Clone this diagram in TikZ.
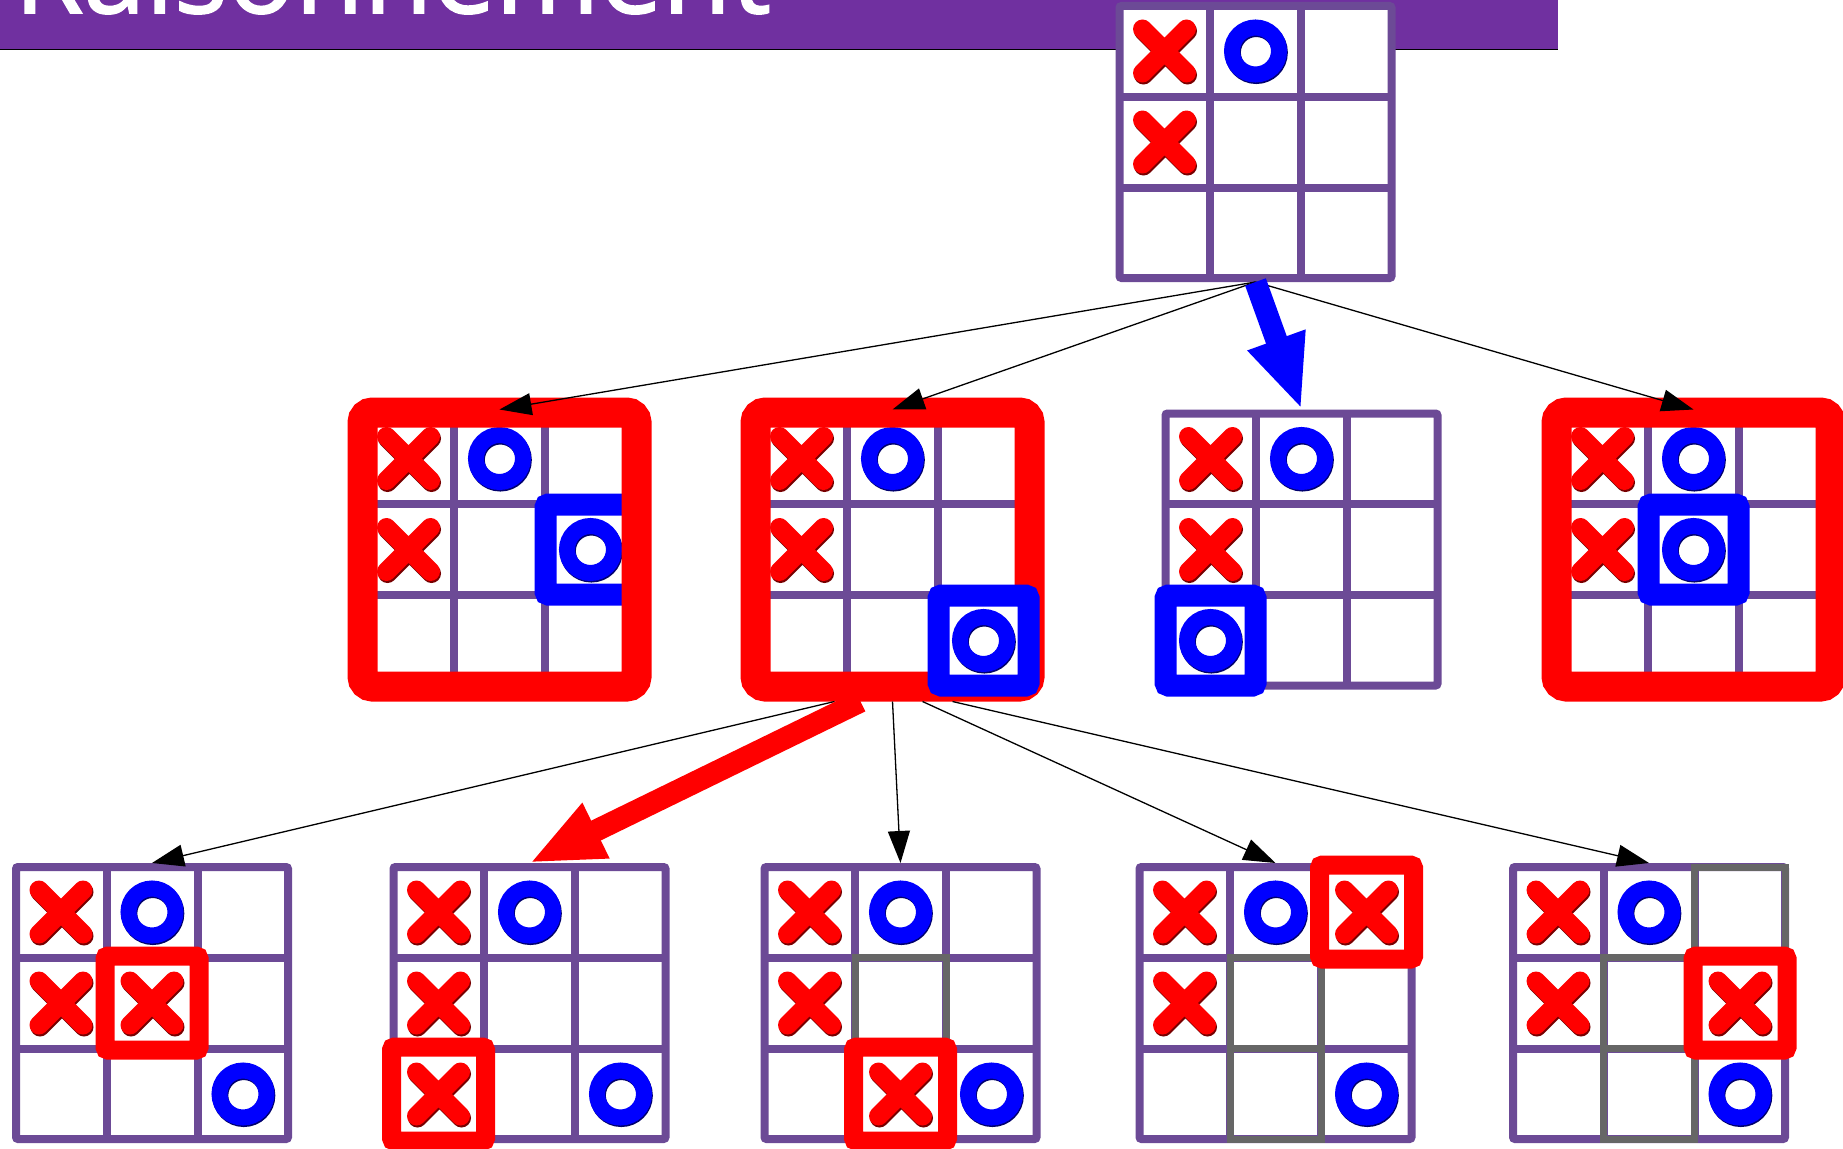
\documentclass[tikz,border=0pt]{standalone}
\usepackage{fontspec}
\setmainfont{Open Sans}
\newfontfamily\titlefont{Open Sans}[FakeBold=1.5]
\usepackage{tikz}
\usetikzlibrary{arrows.meta,calc}

\definecolor{titlepurple}{RGB}{112,48,160}
\definecolor{gridpurple}{RGB}{108,74,150}
\definecolor{cellgray}{RGB}{102,102,102}
\definecolor{xshade}{RGB}{120,0,0}
\definecolor{oshade}{RGB}{0,0,110}

\newcommand\putmark[4]{\pic at ($(#1)+({(#2-2)*91},{(#3-2)*91})$) {#4};}

\begin{document}
\begin{tikzpicture}[x=1pt,y=-1pt,
  board/.style={draw=gridpurple, line width=8pt, fill=white, minimum size=272pt, inner sep=0pt, rounded corners=2pt,
    path picture={
      \draw[gridpurple, line width=8pt]
        ([xshift=-45.5pt]path picture bounding box.north) -- ([xshift=-45.5pt]path picture bounding box.south)
        ([xshift=45.5pt]path picture bounding box.north) -- ([xshift=45.5pt]path picture bounding box.south)
        ([yshift=-45.5pt]path picture bounding box.west) -- ([yshift=-45.5pt]path picture bounding box.east)
        ([yshift=45.5pt]path picture bounding box.west) -- ([yshift=45.5pt]path picture bounding box.east);
    }},
  winframe/.style={draw=red, line width=30pt, minimum size=274pt, inner sep=0pt, rounded corners=10pt},
  bluepick/.style={draw=blue, line width=22pt, fill=white, minimum size=90pt, inner sep=0pt, rounded corners=3pt},
  redpick/.style={draw=red, line width=19pt, fill=white, minimum size=94pt, inner sep=0pt, rounded corners=3pt},
  graycell/.style={draw=cellgray, line width=7pt},
  move/.style={-{Triangle[length=32pt,width=22pt]}, line width=1.3pt, black},
  bestmove/.style={-{Triangle[length=74pt,width=56pt]}, line width=22pt},
  xmark/.pic={
    \draw[xshade, line width=19pt, line cap=round, shift={(1,2)}] (-22,-22) -- (22,22) (-22,22) -- (22,-22);
    \draw[red, line width=19pt, line cap=round] (-22,-22) -- (22,22) (-22,22) -- (22,-22);
  },
  omark/.pic={
    \draw[oshade, line width=16pt, shift={(0.8,1.5)}] (0,0) circle[radius=23.5pt];
    \draw[blue, line width=16pt] (0,0) circle[radius=23.5pt];
  }]
  \useasboundingbox (0,0) rectangle (1843,1148);
  \clip (0,0) rectangle (1843,1148);

  \fill[titlepurple] (0,0) rectangle (1558,49);
  \draw[line width=1.5pt] (0,49.5) -- (1558,49.5);
  \node[anchor=base west, inner sep=0pt, text=white, font=\titlefont\fontsize{112}{112}\selectfont] (title) at (14,13) {Raisonnement};

  \node[board] (root) at (1255.5,142) {};
  \putmark{root}{1}{1}{xmark}
  \putmark{root}{2}{1}{omark}
  \putmark{root}{1}{2}{xmark}

  \node[board] (c1) at (499.5,549.5) {};
  \putmark{c1}{1}{1}{xmark}
  \putmark{c1}{2}{1}{omark}
  \putmark{c1}{1}{2}{xmark}
  \node[bluepick] (c1p) at ($(c1)+(91,0)$) {};
  \putmark{c1}{3}{2}{omark}
  \node[winframe] (c1f) at (c1) {};

  \node[board] (c2) at (892.5,549.5) {};
  \putmark{c2}{1}{1}{xmark}
  \putmark{c2}{2}{1}{omark}
  \putmark{c2}{1}{2}{xmark}
  \node[winframe] (c2f) at (c2) {};
  \node[bluepick] (c2p) at ($(c2)+(91,91)$) {};
  \putmark{c2}{3}{3}{omark}

  \node[board] (c3) at (1301.5,549.5) {};
  \putmark{c3}{1}{1}{xmark}
  \putmark{c3}{2}{1}{omark}
  \putmark{c3}{1}{2}{xmark}
  \node[bluepick] (c3p) at ($(c3)+(-91,91)$) {};
  \putmark{c3}{1}{3}{omark}

  \node[board] (c4) at (1693.5,549.5) {};
  \putmark{c4}{1}{1}{xmark}
  \putmark{c4}{2}{1}{omark}
  \putmark{c4}{1}{2}{xmark}
  \node[winframe] (c4f) at (c4) {};
  \node[bluepick] (c4p) at (c4) {};
  \putmark{c4}{2}{2}{omark}

  \node[board] (d1) at (152,1003) {};
  \putmark{d1}{1}{1}{xmark}
  \putmark{d1}{2}{1}{omark}
  \putmark{d1}{1}{2}{xmark}
  \putmark{d1}{3}{3}{omark}
  \node[redpick] (d1p) at (d1) {};
  \putmark{d1}{2}{2}{xmark}

  \node[board] (d2) at (529.5,1003) {};
  \putmark{d2}{1}{1}{xmark}
  \putmark{d2}{2}{1}{omark}
  \putmark{d2}{1}{2}{xmark}
  \putmark{d2}{3}{3}{omark}
  \node[redpick] (d2p) at ($(d2)+(-91,91)$) {};
  \putmark{d2}{1}{3}{xmark}

  \node[board] (d3) at (900.5,1003) {};
  \draw[graycell] ($(d3)+(-45.5,-45.5)$) rectangle ($(d3)+(45.5,45.5)$);
  \putmark{d3}{1}{1}{xmark}
  \putmark{d3}{2}{1}{omark}
  \putmark{d3}{1}{2}{xmark}
  \putmark{d3}{3}{3}{omark}
  \node[redpick] (d3p) at ($(d3)+(0,91)$) {};
  \putmark{d3}{2}{3}{xmark}

  \node[board] (d4) at (1275.5,1003) {};
  \draw[graycell] ($(d4)+(-45.5,-45.5)$) rectangle ($(d4)+(45.5,136)$);
  \draw[graycell] ($(d4)+(-45.5,45.5)$) -- ($(d4)+(45.5,45.5)$);
  \putmark{d4}{1}{1}{xmark}
  \putmark{d4}{2}{1}{omark}
  \putmark{d4}{1}{2}{xmark}
  \putmark{d4}{3}{3}{omark}
  \node[redpick] (d4p) at ($(d4)+(91,-91)$) {};
  \putmark{d4}{3}{1}{xmark}

  \node[board] (d5) at (1649,1003) {};
  \draw[graycell] ($(d5)+(-45.5,-45.5)$) rectangle ($(d5)+(45.5,136)$);
  \draw[graycell] ($(d5)+(-45.5,45.5)$) -- ($(d5)+(45.5,45.5)$);
  \draw[graycell] ($(d5)+(45.5,-45.5)$) -- ($(d5)+(45.5,-136)$) -- ($(d5)+(136,-136)$) -- ($(d5)+(136,-45.5)$);
  \putmark{d5}{1}{1}{xmark}
  \putmark{d5}{2}{1}{omark}
  \putmark{d5}{1}{2}{xmark}
  \putmark{d5}{3}{3}{omark}
  \node[redpick] (d5p) at ($(d5)+(91,0)$) {};
  \putmark{d5}{3}{2}{xmark}

  \draw[move] (root.south) -- (c1.north);
  \draw[move] (root.south) -- (c2.north);
  \draw[move] (root.south) -- (c4.north);
  \draw[bestmove, blue] (root.south) -- (c3.north);

  \draw[move] ([xshift=-58pt]c2f.south) -- (d1.north);
  \draw[move] (c2f.south) -- (d3.north);
  \draw[move] ([xshift=30pt]c2f.south) -- (d4.north);
  \draw[move] ([xshift=60pt]c2f.south) -- (d5.north);
  \draw[bestmove, red] ([xshift=-32pt]c2f.south) -- (d2.north);
\end{tikzpicture}
\end{document}
